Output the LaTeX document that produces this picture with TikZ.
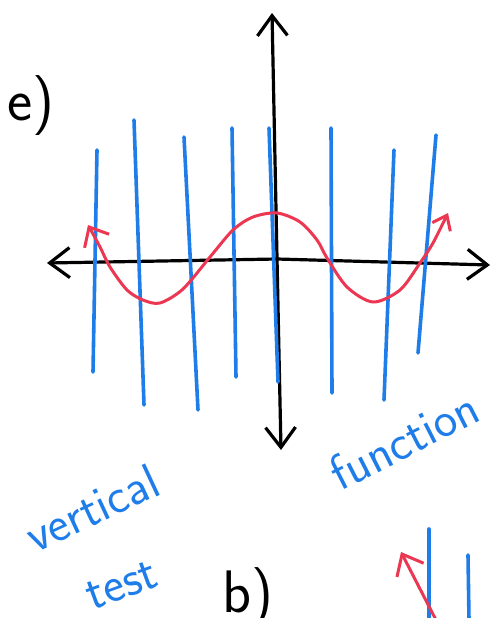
\documentclass[tikz,border=0pt]{standalone}
\usepackage{tikz}
\usetikzlibrary{arrows.meta}
\definecolor{penBlue}{RGB}{30,125,232}
\definecolor{penRed}{RGB}{236,55,82}
\tikzset{
  ink/.style={line width=3.2pt,line cap=round,line join=round},
  axisline/.style={ink,black,{Straight Barb[length=20pt,width=30pt,line width=3.2pt]}-{Straight Barb[length=20pt,width=30pt,line width=3.2pt]}},
  testline/.style={ink,penBlue,line width=3.6pt},
  curveline/.style={ink,penRed,line width=3pt},
  hand/.style={font=\sffamily\fontsize{50}{50}\selectfont,inner sep=0pt},
  partlabel/.style={font=\sffamily\fontsize{60}{60}\selectfont,inner sep=0pt,anchor=base},
}
\begin{document}
\begin{tikzpicture}[x=1pt,y=-1pt]
  \useasboundingbox (0,0) rectangle (491,618);
  \clip (0,0) rectangle (491,618);

  % part label
  \node[partlabel] (parte) at (31,120) {e)};

  % axes
  \draw[axisline] (47,263) -- (277,259) -- (490,265);
  \draw[axisline] (281,450) -- (277,258) -- (272,13);

  % vertical line test
  \foreach \xa/\ya/\xb/\yb in {97/150/93/372, 134/120/144/405, 184/137/198/410,
                              232/128/236/377, 269/128/278/382, 331/128/332/393,
                              394/150/384/400, 436/135/418/353}
    \draw[testline] (\xa,\ya) -- (\xb,\yb);

  % the function
  \draw[curveline,{Straight Barb[length=16pt,width=28pt,line width=3pt]}-{Straight Barb[length=13pt,width=20pt,line width=3pt]}]
    plot[smooth] coordinates {(88,225) (100,247) (110,267) (127,290) (143,300)
      (160,303) (183,289) (210,257) (233,230) (253,217) (277,213) (300,222)
      (317,240) (327,258) (347,287) (373,302) (400,290) (420,263) (433,243) (448,213)};

  % labels
  \node[hand,penBlue,rotate=25] (vert) at (92,508) {vertical};
  \node[hand,penBlue,rotate=20] (test) at (122,585) {test};
  \node[hand,penBlue,rotate=27] (func) at (404,440) {function};

  % next part, cut off
  \node[partlabel] (partb) at (248,612) {b)};
  \draw[testline] (429,529) -- (429,620);
  \draw[testline] (468,555) -- (469,620);
  \draw[curveline,-{Straight Barb[length=18pt,width=30pt,line width=3pt]}] (436,620) -- (401,552);
\end{tikzpicture}
\end{document}
